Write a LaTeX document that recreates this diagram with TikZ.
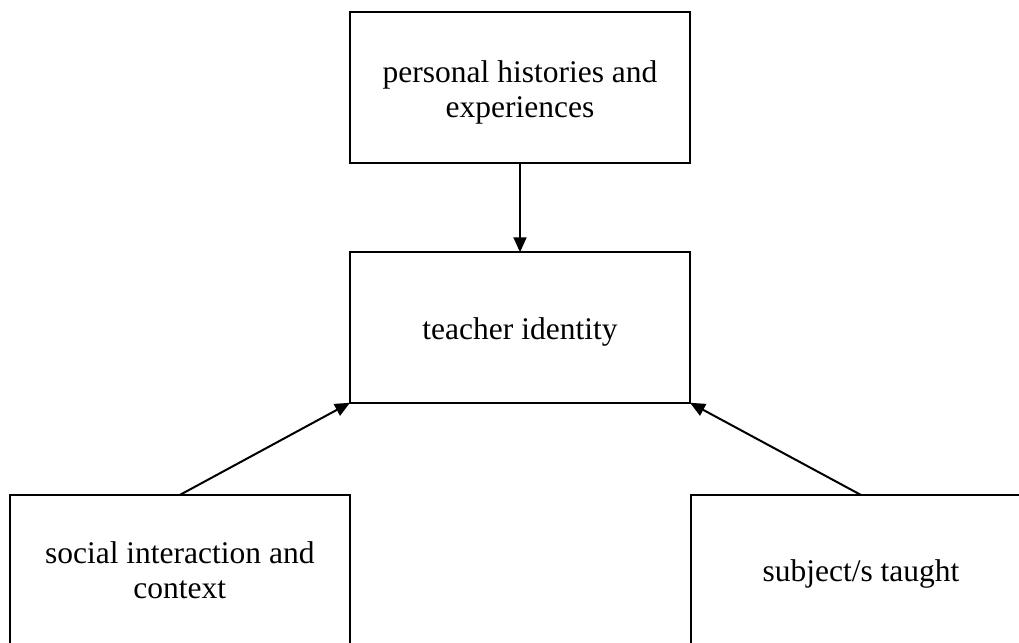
\documentclass[tikz,border=0pt]{standalone}
\usepackage{fontspec}
\setmainfont{Liberation Serif}
\usetikzlibrary{arrows.meta}
\begin{document}
\begin{tikzpicture}[x=1pt,y=1pt,
  box/.style={draw=black, line width=2pt, fill=white, inner sep=0pt, outer sep=0pt,
    minimum width=340pt, minimum height=150.5pt},
  txt/.style={align=center, inner sep=0pt, font=\fontsize{31.5}{35}\selectfont},
  link/.style={line width=2pt, -{Triangle[length=15pt,width=13pt]}}]
  \useasboundingbox (0,0) rectangle (1019,-642);
  \clip (0,0) rectangle (1019,-642);
  % the four boxes, each with its caption set slightly below centre
  \node[box, label={[txt, yshift=-5pt]center:{personal histories and\\experiences}}]
    (hist) at (520,-87.75) {};
  \node[box, label={[txt, yshift=-4pt]center:{teacher identity}}]
    (ident) at (520,-327.5) {};
  \node[box, label={[txt, yshift=0pt]center:{social interaction and\\context}}]
    (social) at (179.75,-570.25) {};
  \node[box, label={[txt, yshift=-4pt]center:{subject/s taught}}]
    (subj) at (861,-570.25) {};
  % influences on teacher identity
  \draw[link] (hist.south) -- (ident.north);
  \draw[link] (social.north) -- (ident.south west);
  \draw[link] (subj.north) -- (ident.south east);
\end{tikzpicture}
\end{document}
